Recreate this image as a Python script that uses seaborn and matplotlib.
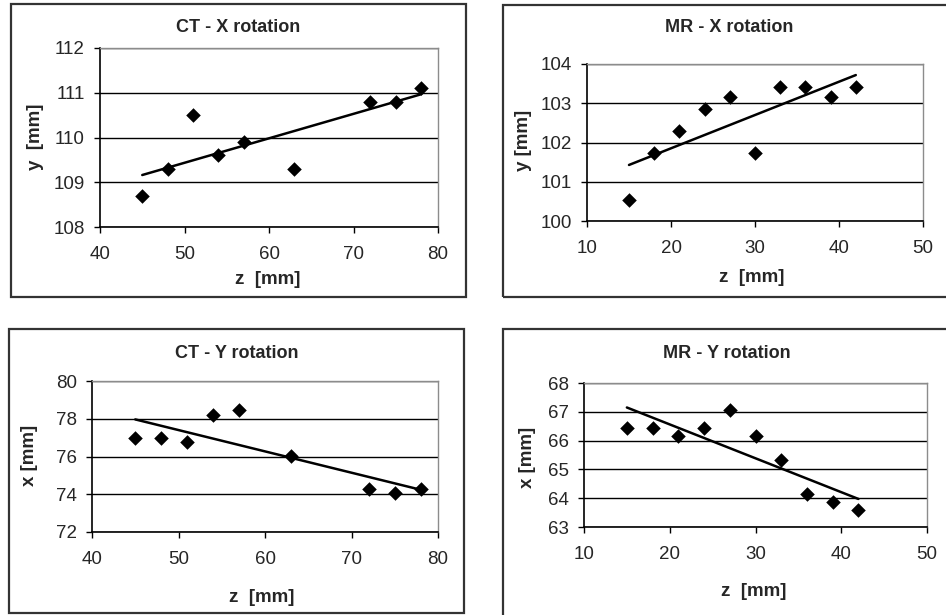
import matplotlib
matplotlib.use("Agg")
import matplotlib.pyplot as plt
from matplotlib.patches import Rectangle
import seaborn as sns
import numpy as np

# data
z_ct = [45, 48, 51, 54, 57, 63, 72, 75, 78]
y_ct_xrot = [108.7, 109.3, 110.5, 109.6, 109.9, 109.3, 110.8, 110.8, 111.1]
x_ct_yrot = [77.0, 77.0, 76.75, 78.2, 78.45, 76.05, 74.3, 74.05, 74.3]

z_mr = [15, 18, 21, 24, 27, 30, 33, 36, 39, 42]
y_mr_xrot = [100.53, 101.72, 102.3, 102.86, 103.17, 101.72, 103.42, 103.42, 103.17, 103.42]
x_mr_yrot = [66.45, 66.45, 66.15, 66.45, 67.05, 66.15, 65.34, 64.13, 63.87, 63.58]

sns.set_style("white")
plt.rcParams['font.family'] = ['Liberation Sans', 'DejaVu Sans']

W, H = 946, 615
fig = plt.figure(figsize=(W / 100, H / 100), dpi=100)


def px_axes(x0, y0, x1, y1):
    return fig.add_axes([x0 / W, 1 - y1 / H, (x1 - x0) / W, (y1 - y0) / H])


def frame(x0, y0, x1, y1):
    fig.patches.append(Rectangle((x0 / W, 1 - y1 / H), (x1 - x0) / W, (y1 - y0) / H,
                                 transform=fig.transFigure, fill=False,
                                 edgecolor='#333333', linewidth=1.6, zorder=0))


panels = [
    # title, z, values, xlim, ylim, ystep, ylabel, axes px box, frame px box, title pos, xlabel pos, ylabel pos
    ("CT - X rotation", z_ct, y_ct_xrot, (40, 80), (108, 112), 1, "y  [mm]",
     (100, 48, 438, 227), (11, 4, 466, 297), (238, 27), (268, 280), (35, 137)),
    ("MR - X rotation", z_mr, y_mr_xrot, (10, 50), (100, 104), 1, "y [mm]",
     (587, 64, 923, 221), (503, 5, 962, 297), (729, 27), (752, 277), (523, 140)),
    ("CT - Y rotation", z_ct, x_ct_yrot, (40, 80), (72, 80), 2, "x [mm]",
     (92, 381, 438, 532), (9, 329, 464, 613), (237, 353), (262, 597), (30, 455)),
    ("MR - Y rotation", z_mr, x_mr_yrot, (10, 50), (63, 68), 1, "x [mm]",
     (584, 383, 927, 527), (503, 329, 962, 632), (727, 353), (754, 592), (528, 457)),
]

for title, zz, vals, xlim, ylim, ystep, ylab, box, fbox, tpos, xlpos, ylpos in panels:
    frame(*fbox)
    ax = px_axes(*box)
    sns.regplot(x=np.array(zz), y=np.array(vals), ax=ax, ci=None, truncate=True,
                marker='D', color='black',
                scatter_kws={'s': 55, 'alpha': 1, 'edgecolors': 'black', 'linewidths': 0, 'zorder': 3},
                line_kws={'color': 'black', 'linewidth': 1.8, 'zorder': 2})
    ax.set_xlim(*xlim)
    ax.set_ylim(*ylim)
    ax.set_xticks(np.arange(xlim[0], xlim[1] + 1, 10))
    ax.set_yticks(np.arange(ylim[0], ylim[1] + 0.5, ystep))
    ax.set_xlabel("")
    ax.set_ylabel("")
    ax.yaxis.grid(True, color='black', linewidth=1.0)
    ax.set_axisbelow(True)
    for s in ['top', 'right']:
        ax.spines[s].set_color('#8c8c8c')
        ax.spines[s].set_linewidth(1.0)
    for s in ['left', 'bottom']:
        ax.spines[s].set_color('black')
        ax.spines[s].set_linewidth(1.2)
    ax.tick_params(axis='both', direction='out', length=4, width=1, color='black',
                   labelsize=13.5, left=True, bottom=True)
    ax.tick_params(axis='x', pad=10)
    ax.tick_params(axis='y', pad=7)
    fig.text(tpos[0] / W, 1 - tpos[1] / H, title, ha='center', va='center',
             fontsize=13, fontweight='bold')
    fig.text(xlpos[0] / W, 1 - xlpos[1] / H, "z  [mm]", ha='center', va='center',
             fontsize=13.5, fontweight='bold')
    fig.text(ylpos[0] / W, 1 - ylpos[1] / H, ylab, ha='center', va='center',
             fontsize=13.5, fontweight='bold', rotation=90)

fig.savefig("out.png", dpi=100)
